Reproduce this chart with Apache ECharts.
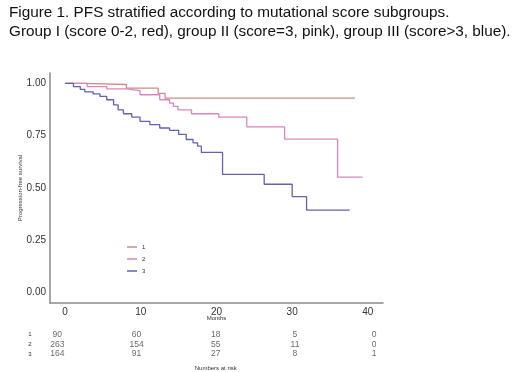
<!DOCTYPE html>
<html>
<head>
<meta charset="utf-8">
<script src="https://cdn.jsdelivr.net/npm/echarts@6/dist/echarts.min.js"></script>
<style>
  html, body { margin: 0; padding: 0; background: #fff; }
  #main { width: 520px; height: 372px; }
</style>
</head>
<body>
<div id="main"></div>
<script>
// KM steps: [months, survival]
const group1 = [[0, 1], [2.4, 0.995], [8.1, 0.978], [12.3, 0.953], [13.2, 0.93], [38.3, 0.93]]
const group2 = [[0, 1], [2.9, 0.985], [5.5, 0.974], [8.1, 0.966], [9.9, 0.946], [12.5, 0.922],
  [13.8, 0.906], [14.3, 0.89], [14.9, 0.874], [16.7, 0.855], [20.3, 0.839], [24, 0.792],
  [29, 0.734], [36, 0.552], [39.3, 0.552]]
const group3 = [[0, 1], [1.1, 0.985], [2.0, 0.972], [2.6, 0.96], [3.7, 0.95], [4.6, 0.938],
  [5.5, 0.922], [6.4, 0.898], [7.0, 0.874], [7.7, 0.855], [8.8, 0.839], [9.9, 0.819],
  [11.2, 0.803], [12.5, 0.787], [13.8, 0.776], [15.0, 0.756], [16.0, 0.732], [16.9, 0.716],
  [17.5, 0.70], [18.0, 0.670], [20.8, 0.565], [26.3, 0.518], [30, 0.459], [31.9, 0.394], [37.6, 0.394]]

const groupNames = ['1', '2', '3']
const riskTimes = [0, 10, 20, 30, 40]
const risk1 = [90, 60, 18, 5, 0]
const risk2 = [263, 154, 55, 11, 0]
const risk3 = [164, 91, 27, 8, 1]

const colors = ['#d18a8a', '#da86bd', '#6262ae']

const myChart = echarts.init(document.getElementById('main'))

const riskRows = [risk1, risk2, risk3]
const riskData = []
riskRows.forEach((row, i) => {
  row.forEach((n, j) => {
    riskData.push([riskTimes[j], groupNames[i], n])
  })
})

myChart.setOption({
  animation: false,
  color: colors,
  title: {
    text: 'Figure 1. PFS stratified according to mutational score subgroups.\nGroup I (score 0-2, red), group II (score=3, pink), group III (score>3, blue).',
    left: 4,
    top: -2,
    textStyle: {
      fontFamily: 'Liberation Sans',
      fontSize: 15.3,
      fontWeight: 'normal',
      color: '#111',
      lineHeight: 19
    }
  },
  legend: {
    orient: 'vertical',
    left: 122,
    top: 238,
    icon: 'rect',
    itemWidth: 10,
    itemHeight: 1.5,
    itemGap: 4,
    data: groupNames,
    textStyle: { fontSize: 6, color: '#333', lineHeight: 8, fontFamily: 'Liberation Sans' }
  },
  grid: [
    { left: 50, right: 137, top: 73, bottom: 69 },
    { left: 41.5, right: 130, top: 329.5, height: 30.6 }
  ],
  xAxis: [{
    type: 'value',
    gridIndex: 0,
    min: -2,
    max: 42,
    interval: 10,
    name: 'Months',
    nameLocation: 'middle',
    nameGap: 12,
    nameMoveOverlap: false,
    nameTextStyle: { fontSize: 6, color: '#333', fontFamily: 'Liberation Sans' },
    axisLine: { onZero: false, lineStyle: { color: '#8a8a8a', width: 1.5 } },
    axisTick: { show: false },
    axisLabel: {
      fontSize: 10, color: '#333', margin: 4, fontFamily: 'Liberation Sans',
      customValues: riskTimes
    },
    splitLine: { show: false }
  }, {
    type: 'value',
    gridIndex: 1,
    min: -2,
    max: 42,
    name: 'Numbers at risk',
    nameLocation: 'middle',
    nameGap: 6,
    nameTextStyle: { fontSize: 6, color: '#333', fontFamily: 'Liberation Sans' },
    axisLine: { show: false },
    axisTick: { show: false },
    axisLabel: { show: false },
    splitLine: { show: false }
  }],
  yAxis: [{
    type: 'value',
    gridIndex: 0,
    min: -0.05,
    max: 1.05,
    name: 'Progression-free survival',
    nameLocation: 'middle',
    nameGap: 27,
    nameMoveOverlap: false,
    nameTextStyle: { fontSize: 6, color: '#333', fontFamily: 'Liberation Sans' },
    axisLine: { show: true, onZero: false, lineStyle: { color: '#8a8a8a', width: 1.5 } },
    axisTick: { show: false },
    axisLabel: {
      fontSize: 10, color: '#333', margin: 4, fontFamily: 'Liberation Sans',
      customValues: [0, 0.25, 0.5, 0.75, 1],
      formatter: (v) => v.toFixed(2)
    },
    splitLine: { show: false }
  }, {
    type: 'category',
    gridIndex: 1,
    inverse: true,
    data: groupNames,
    axisLine: { show: false },
    axisTick: { show: false },
    axisLabel: { fontSize: 6, color: '#333', margin: 10, fontFamily: 'Liberation Sans' }
  }],
  series: [
    { name: '1', type: 'line', step: 'end', data: group1, showSymbol: false, lineStyle: { width: 1.3 } },
    { name: '2', type: 'line', step: 'end', data: group2, showSymbol: false, lineStyle: { width: 1.3 } },
    { name: '3', type: 'line', step: 'end', data: group3, showSymbol: false, lineStyle: { width: 1.3 } },
    {
      name: 'risk',
      type: 'scatter',
      xAxisIndex: 1,
      yAxisIndex: 1,
      symbolSize: 0,
      data: riskData,
      label: {
        show: true,
        position: 'inside',
        formatter: (p) => p.value[2],
        fontSize: 8.5,
        color: '#444',
        fontFamily: 'Liberation Sans'
      }
    }
  ]
})
</script>
</body>
</html>
